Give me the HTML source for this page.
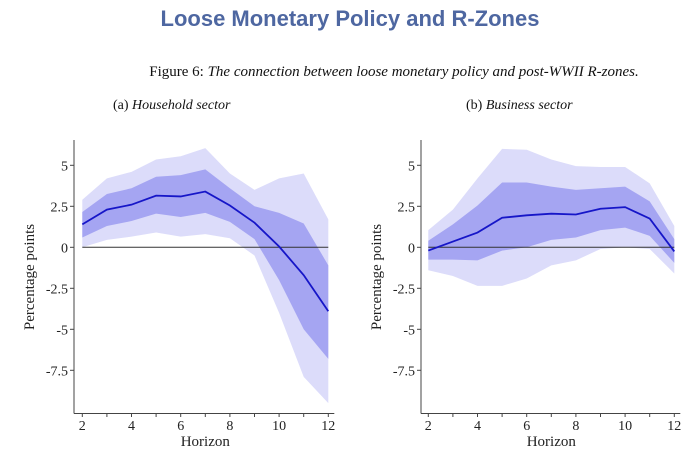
<!DOCTYPE html>
<html><head><meta charset="utf-8"><style>
html,body{margin:0;padding:0;background:#fff;}
body{width:700px;height:458px;overflow:hidden;position:relative;}
#title{position:absolute;left:0;top:6px;width:700px;text-align:center;font:bold 22px "Liberation Sans",sans-serif;color:#4e67a1;}
#caption{position:absolute;left:0;top:64px;width:788px;text-align:center;font:15px "Liberation Serif",serif;color:#111;}
.sub{position:absolute;top:98px;font:14px "Liberation Serif",serif;color:#111;}
svg{position:absolute;left:0;top:0;}
</style></head><body>
<div id="title">Loose Monetary Policy and R-Zones</div>
<div id="caption">Figure 6: <i>The connection between loose monetary policy and post-WWII R-zones.</i></div>
<div class="sub" style="left:113px">(a) <i>Household sector</i></div>
<div class="sub" style="left:466px">(b) <i>Business sector</i></div>
<svg id="svg" width="700" height="458"></svg>
<script>
const horizons=[2,3,4,5,6,7,8,9,10,11,12];
const yTicks=[5,2.5,0,-2.5,-5,-7.5];
const yTickLabels=["5","2.5","0","-2.5","-5","-7.5"];
const xTicks=[2,4,6,8,10,12];
const hhMean=[1.4,2.3,2.6,3.15,3.1,3.4,2.55,1.5,0.05,-1.7,-3.9];
const hhInnerUp=[2.15,3.25,3.6,4.3,4.4,4.75,3.6,2.5,2.1,1.45,-1.1];
const hhInnerLo=[0.6,1.3,1.6,2.05,1.85,2.1,1.55,0.5,-2.0,-5.0,-6.8];
const hhOuterUp=[2.9,4.2,4.6,5.35,5.55,6.05,4.5,3.5,4.2,4.5,1.7];
const hhOuterLo=[0.0,0.45,0.65,0.9,0.65,0.8,0.55,-0.5,-4.0,-7.9,-9.5];
const bzMean=[-0.2,0.35,0.9,1.8,1.95,2.05,2.0,2.35,2.45,1.75,-0.25];
const bzInnerUp=[0.4,1.4,2.55,3.95,3.95,3.7,3.5,3.6,3.7,2.8,0.5];
const bzInnerLo=[-0.75,-0.75,-0.8,-0.2,0.0,0.45,0.6,1.05,1.2,0.7,-0.95];
const bzOuterUp=[1.05,2.3,4.2,6.0,5.95,5.35,4.95,4.9,4.9,3.9,1.3];
const bzOuterLo=[-1.4,-1.75,-2.35,-2.35,-1.9,-1.1,-0.8,-0.1,0,-0.1,-1.6];

const NS="http://www.w3.org/2000/svg";
const svg=document.getElementById('svg');
function mk(tag,attrs,parent){const e=document.createElementNS(NS,tag);for(const k in attrs)e.setAttribute(k,attrs[k]);(parent||svg).appendChild(e);return e;}

function panel(id,axisX,x2px,x12px,mean,iu,il,ou,ol){
  const g=mk('g',{});
  
  
  const xs=v=>x2px+(v-2)*(x12px-x2px)/10;
  const ys=v=>247.3-v*16.4;
  const band=(up,lo,fill,name)=>{
    let pts=horizons.map((h,i)=>xs(h)+','+ys(up[i]));
    pts=pts.concat(horizons.slice().reverse().map((h,j)=>{const i=horizons.length-1-j;return xs(h)+','+ys(lo[i]);}));
    const p=mk('polygon',{points:pts.join(' '),fill:fill},g);
    
    
  };
  band(ou,ol,'#dcdcfa',id+'-outer-band');
  band(iu,il,'#a5a5f2',id+'-inner-band');
  const z=mk('line',{x1:xs(2),x2:xs(12),y1:ys(0),y2:ys(0),stroke:'#333','stroke-width':1},g);
  
  
  const l=mk('polyline',{points:horizons.map((h,i)=>xs(h)+','+ys(mean[i])).join(' '),fill:'none',stroke:'#1616c8','stroke-width':1.8},g);
  
  
  const ya=mk('line',{x1:axisX,x2:axisX,y1:140,y2:413.5,stroke:'#444','stroke-width':1},g);
  
  
  const xa=mk('line',{x1:axisX,x2:x12px+6,y1:413.5,y2:413.5,stroke:'#444','stroke-width':1},g);
  
  
  yTicks.forEach((t,i)=>{
    mk('line',{x1:axisX-4,x2:axisX,y1:ys(t),y2:ys(t),stroke:'#444'},g);
    const tx=mk('text',{x:axisX-6,y:ys(t)+5,'text-anchor':'end','font-family':'Liberation Serif, serif','font-size':14,fill:'#222'},g);
    tx.textContent=yTickLabels[i];
    
    
  });
  horizons.forEach(h=>mk('line',{x1:xs(h),x2:xs(h),y1:413.5,y2:417,stroke:'#444'},g));
  xTicks.forEach(t=>{
    const tx=mk('text',{x:xs(t),y:430,'text-anchor':'middle','font-family':'Liberation Serif, serif','font-size':14,fill:'#222'},g);
    tx.textContent=String(t);
    
    
  });
  const xt=mk('text',{x:(xs(2)+xs(12))/2,y:446,'text-anchor':'middle','font-family':'Liberation Serif, serif','font-size':15,fill:'#222'},g);
  xt.textContent='Horizon';
  
  
  const yt=mk('text',{x:0,y:0,'text-anchor':'middle','font-family':'Liberation Serif, serif','font-size':15,fill:'#222',transform:'translate('+(axisX-40)+',277) rotate(-90)'},g);
  yt.textContent='Percentage points';
  
  
}
panel('household',74,82.3,328.3,hhMean,hhInnerUp,hhInnerLo,hhOuterUp,hhOuterLo);
panel('business',421,428.3,674.3,bzMean,bzInnerUp,bzInnerLo,bzOuterUp,bzOuterLo);
</script>
</body></html>
